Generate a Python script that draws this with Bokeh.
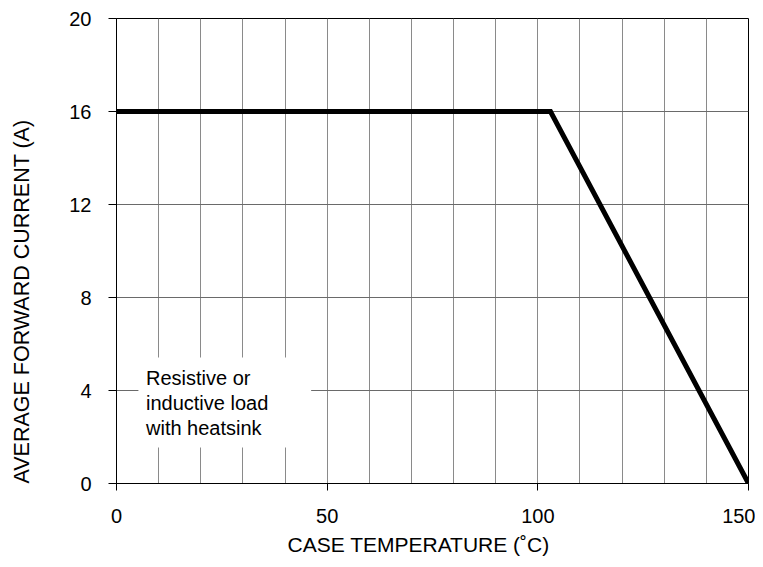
from bokeh.plotting import figure
from bokeh.models import FixedTicker, Range1d, Title
from bokeh.core.properties import value
from bokeh.embed import file_html
from bokeh.resources import INLINE

# data
temp = [0, 103, 150]
current = [16, 16, 0]
x_ticks = [0, 50, 100, 150]
y_ticks = [0, 4, 8, 12, 16, 20]
x_grid = list(range(0, 151, 10))
y_grid = [0, 4, 8, 12, 16, 20]
note_lines = ["Resistive or", "inductive load", "with heatsink"]
x_title = "CASE TEMPERATURE (\u02daC)"
y_title = "AVERAGE FORWARD CURRENT (A)"

FONT = "Liberation Sans"

p = figure(width=755, height=567, output_backend="svg", toolbar_location=None,
           x_range=Range1d(0, 150), y_range=Range1d(0, 20),
           min_border_left=116, min_border_right=7, min_border_top=18, min_border_bottom=84)
p.background_fill_color = "white"
p.border_fill_color = "white"
p.outline_line_color = "black"
p.outline_line_width = 1

for ax in (p.xaxis[0], p.yaxis[0]):
    ax.major_label_text_font = FONT
    ax.major_label_text_font_size = "20px"
    ax.major_label_text_color = "black"
    ax.axis_line_color = "black"
    ax.major_tick_line_color = "black"
    ax.major_tick_in = 0
    ax.minor_tick_line_color = None

p.xaxis.ticker = FixedTicker(ticks=x_ticks)
p.yaxis.ticker = FixedTicker(ticks=y_ticks)
p.xaxis.major_tick_out = 7
p.yaxis.major_tick_out = 8
p.xaxis.major_label_standoff = 18
p.yaxis.major_label_standoff = 17

p.xgrid.ticker = FixedTicker(ticks=x_grid)
p.ygrid.ticker = FixedTicker(ticks=y_grid)
p.xgrid.grid_line_color = "#8a8a8a"
p.ygrid.grid_line_color = "#6a6a6a"

# white box behind note
p.quad(left=[5.2], right=[46.2], bottom=[1.55], top=[5.42],
       fill_color="white", line_color=None)

p.text(x=[7.0, 7.0, 7.0], y=[4.55, 3.47, 2.4], text=note_lines,
       text_font=value(FONT), text_font_size="20px", text_color="black",
       text_baseline="middle", text_align="left")

p.line(temp, current, line_color="black", line_width=5, line_join="miter")

p.add_layout(Title(text=x_title, align="left", offset=171, standoff=10,
                   text_font=FONT, text_font_size="21px", text_font_style="normal",
                   text_color="black"), "below")
# spacing panel between the y axis and its title
p.add_layout(Title(text=" ", standoff=9, text_font=FONT, text_font_size="10px",
                   text_color="white"), "left")
p.add_layout(Title(text=y_title, align="left", offset=0, standoff=18, vertical_align="top",
                   text_font=FONT, text_font_size="21.5px", text_font_style="normal",
                   text_color="black"), "left")

open("out.html", "w").write(file_html(p, INLINE))
